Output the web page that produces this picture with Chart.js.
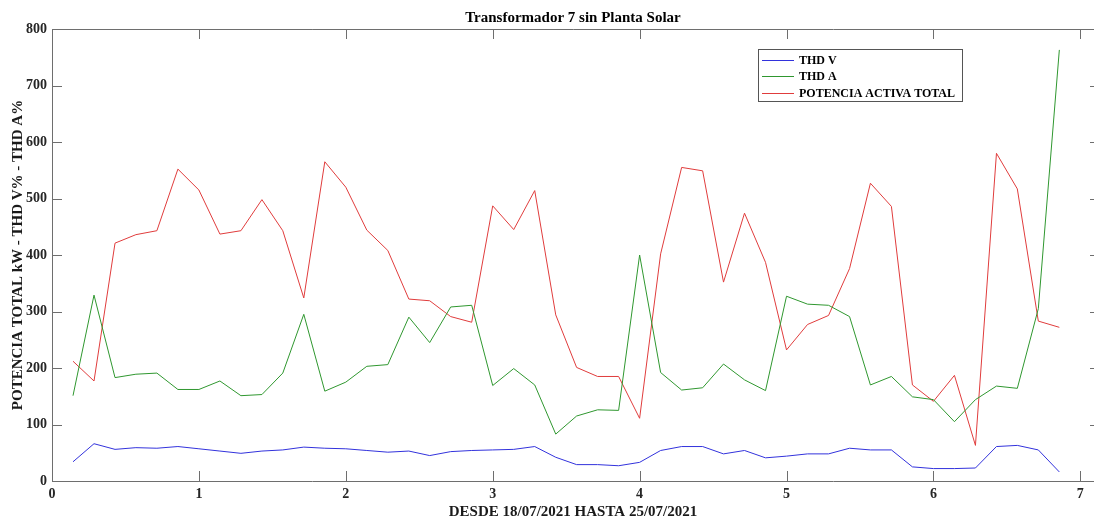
<!DOCTYPE html>
<html>
<head>
<meta charset="utf-8">
<script src="https://cdn.jsdelivr.net/npm/chart.js@4.4.0/dist/chart.umd.min.js"></script>
<style>
  html, body { margin: 0; padding: 0; background: #fff; }
</style>
</head>
<body>
<canvas id="chart" width="1094" height="521"></canvas>
<script>
// days since 18/07/2021 (one sample every 1/7 day)
const xValues = [0.143, 0.286, 0.429, 0.571, 0.714, 0.857, 1.000, 1.143, 1.286, 1.429, 1.571, 1.714,
  1.857, 2.000, 2.143, 2.286, 2.429, 2.571, 2.714, 2.857, 3.000, 3.143, 3.286, 3.429,
  3.571, 3.714, 3.857, 4.000, 4.143, 4.286, 4.429, 4.571, 4.714, 4.857, 5.000, 5.143,
  5.286, 5.429, 5.571, 5.714, 5.857, 6.000, 6.143, 6.286, 6.429, 6.571, 6.714, 6.857];

const thdV = [34, 66, 56, 59, 58, 61, 57, 53, 49, 53, 55, 60, 58, 57, 54, 51, 53, 45, 52, 54, 55, 56, 61, 42,
  29, 29, 27, 33, 54, 61, 61, 48, 54, 41, 44, 48, 48, 58, 55, 55, 25, 22, 22, 23, 61, 63, 55, 16];

const thdA = [151, 329, 183, 189, 191, 162, 162, 177, 151, 153, 191, 295, 159, 175, 203, 206, 290, 245, 308, 311, 169, 199, 170, 83,
  115, 126, 125, 400, 192, 161, 165, 207, 179, 160, 327, 313, 311, 291, 170, 185, 149, 144, 105, 144, 168, 164, 305, 763];

const potencia = [212, 177, 421, 436, 443, 552, 515, 437, 443, 498, 443, 324, 565, 520, 444, 408, 322, 319, 291, 281, 487, 445, 514, 294,
  201, 185, 185, 111, 402, 555, 549, 352, 474, 387, 232, 277, 293, 376, 527, 486, 170, 141, 187, 63, 580, 517, 283, 272];

const xTicks = [0, 1, 2, 3, 4, 5, 6, 7];
const yTicks = [0, 100, 200, 300, 400, 500, 600, 700, 800];

const FONT = "'Liberation Serif', 'Times New Roman', serif";
const AXIS = '#6e6e6e';

const toPoints = (ys) => ys.map((y, i) => ({ x: xValues[i], y: y }));

// MATLAB-like box: inward ticks on all sides
const matlabBox = {
  id: 'matlabBox',
  afterDatasetsDraw(chart) {
    const { ctx, chartArea: a, scales: { x, y } } = chart;
    ctx.save();
    ctx.strokeStyle = AXIS;
    ctx.lineWidth = 1;
    ctx.beginPath();
    ctx.moveTo(a.left + 0.5, a.bottom + 0.5);
    ctx.lineTo(a.left + 0.5, a.top + 0.5);
    ctx.lineTo(a.right, a.top + 0.5);
    ctx.moveTo(a.left, a.bottom + 0.5);
    ctx.lineTo(a.right, a.bottom + 0.5);
    xTicks.forEach(v => {
      const px = Math.round(x.getPixelForValue(v)) + 0.5;
      ctx.moveTo(px, a.bottom);
      ctx.lineTo(px, a.bottom - 10);
      ctx.moveTo(px, a.top);
      ctx.lineTo(px, a.top + 10);
    });
    yTicks.forEach(v => {
      const py = Math.round(y.getPixelForValue(v)) + 0.5;
      ctx.moveTo(a.left, py);
      ctx.lineTo(a.left + 10, py);
      ctx.moveTo(a.right - 4, py);
      ctx.lineTo(a.right, py);
    });
    ctx.stroke();

    // legend box
    const lx = 758.5, ly = 49.5, lw = 204, lh = 52;
    ctx.fillStyle = '#fff';
    ctx.fillRect(lx, ly, lw, lh);
    ctx.strokeStyle = '#555';
    ctx.strokeRect(lx, ly, lw, lh);
    ctx.font = 'bold 12px ' + FONT;
    ctx.textBaseline = 'middle';
    ctx.textAlign = 'left';
    chart.data.datasets.forEach((ds, i) => {
      const rowY = 59.5 + i * 16.5;
      ctx.strokeStyle = ds.borderColor;
      ctx.beginPath();
      ctx.moveTo(762, Math.round(rowY) + 0.5);
      ctx.lineTo(794, Math.round(rowY) + 0.5);
      ctx.stroke();
      ctx.fillStyle = '#000';
      ctx.fillText(ds.label, 799, rowY + 1);
    });
    ctx.restore();
  }
};

new Chart(document.getElementById('chart'), {
  type: 'line',
  data: {
    datasets: [
      { label: 'THD V', data: toPoints(thdV), borderColor: '#3232dc', borderWidth: 1, pointRadius: 0, tension: 0 },
      { label: 'THD A', data: toPoints(thdA), borderColor: '#2f972f', borderWidth: 1, pointRadius: 0, tension: 0 },
      { label: 'POTENCIA ACTIVA TOTAL', data: toPoints(potencia), borderColor: '#e03c3c', borderWidth: 1, pointRadius: 0, tension: 0 }
    ]
  },
  options: {
    responsive: false,
    animation: false,
    devicePixelRatio: 1,
    layout: { padding: 0 },
    plugins: {
      legend: { display: false },
      tooltip: { enabled: false },
      title: {
        display: true,
        fullSize: false,
        text: 'Transformador 7 sin Planta Solar',
        color: '#000',
        font: { family: FONT, size: 15, weight: 'bold' },
        padding: { top: 9, bottom: 2 }
      }
    },
    scales: {
      x: {
        type: 'linear',
        min: 0,
        max: 7.093,
        grid: { display: false, drawTicks: false },
        border: { display: false },
        afterBuildTicks: (s) => { s.ticks = xTicks.map(v => ({ value: v })); },
        afterFit: (s) => { s.height = 40; },
        ticks: { color: '#262626', padding: 5, maxRotation: 0, font: { family: FONT, size: 14, weight: 'bold' } },
        title: {
          display: true,
          text: 'DESDE 18/07/2021 HASTA 25/07/2021',
          color: '#1a1a1a',
          font: { family: FONT, size: 15, weight: 'bold' },
          padding: { top: 0, bottom: 0 }
        }
      },
      y: {
        min: 0,
        max: 800,
        grid: { display: false, drawTicks: false },
        border: { display: false },
        afterBuildTicks: (s) => { s.ticks = yTicks.map(v => ({ value: v })); },
        afterFit: (s) => { s.width = 52; },
        ticks: { color: '#262626', padding: 5, font: { family: FONT, size: 14, weight: 'bold' } },
        title: {
          display: true,
          text: 'POTENCIA TOTAL kW - THD V% - THD A%',
          color: '#1a1a1a',
          font: { family: FONT, size: 15, weight: 'bold' },
          padding: { top: 9, bottom: 0 }
        }
      }
    }
  },
  plugins: [matlabBox]
});
</script>
</body>
</html>
